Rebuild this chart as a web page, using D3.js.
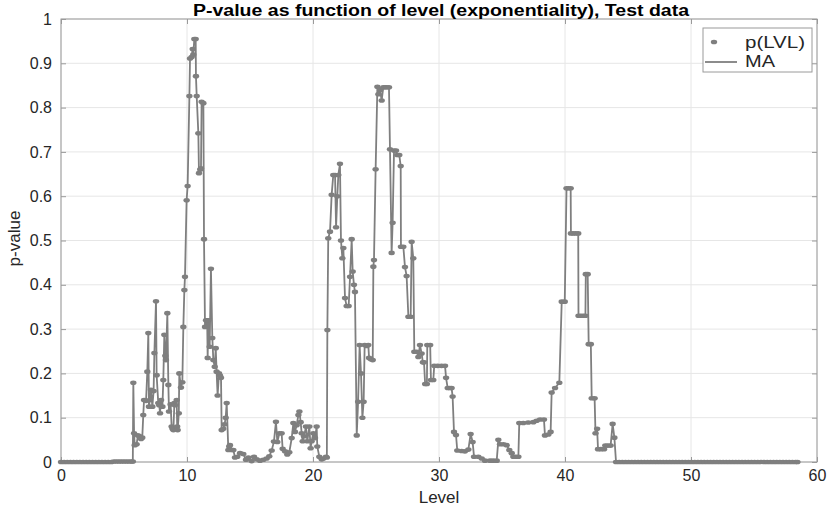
<!DOCTYPE html>
<html><head><meta charset="utf-8">
<script src="https://cdn.jsdelivr.net/npm/d3@7"></script>
<style>
html,body{margin:0;padding:0;background:#fff;}
svg{display:block;font-family:"Liberation Sans",Arial,Helvetica,sans-serif;}
</style></head>
<body>
<svg id="chart" width="832" height="513"></svg>
<script>
const titleText = "P-value as function of level (exponentiality), Test data";
const xLabel = "Level";
const yLabel = "p-value";
const legendLabels = ["p(LVL)", "MA"];
const xTicks = [0, 10, 20, 30, 40, 50, 60];
const yTicks = [0, 0.1, 0.2, 0.3, 0.4, 0.5, 0.6, 0.7, 0.8, 0.9, 1];
const xDomain = [0, 60];
const yDomain = [0, 1];

// [level, p-value] pairs
const pLVL = [
 [0,0],[0.25,0],[0.5,0],[0.75,0],[1,0],[1.25,0],[1.5,0],[1.75,0],[2,0],[2.25,0],[2.5,0],[2.75,0],[3,0],[3.25,0],[3.5,0],[3.75,0],[4,0],[4.2,0.001],[4.4,0.001],[4.6,0.001],[4.8,0.001],[5,0.001],[5.2,0.001],[5.4,0.001],[5.6,0.001],[5.7,0.001],
 [5.74,0.179],[5.80,0.065],[5.85,0.038],[6.00,0.040],[6.10,0.060],[6.27,0.058],[6.35,0.052],[6.45,0.055],[6.53,0.106],[6.59,0.140],[6.75,0.138],[6.85,0.204],[6.93,0.291],[6.98,0.125],[7.05,0.140],[7.14,0.163],[7.25,0.125],[7.35,0.160],[7.41,0.246],[7.54,0.363],[7.59,0.196],[7.72,0.133],[7.80,0.128],[7.86,0.110],[7.94,0.140],[8.05,0.125],[8.12,0.185],[8.20,0.287],[8.28,0.240],[8.33,0.230],[8.44,0.336],[8.52,0.174],[8.57,0.114],[8.70,0.130],[8.78,0.080],[8.85,0.075],[8.92,0.072],[9.00,0.133],[9.05,0.128],[9.18,0.140],[9.22,0.080],[9.26,0.072],[9.35,0.110],[9.39,0.200],[9.52,0.168],[9.63,0.180],[9.71,0.305],[9.79,0.388],[9.84,0.418],[9.97,0.591],[10.05,0.623],[10.19,0.826],[10.24,0.911],[10.37,0.914],[10.45,0.932],[10.50,0.920],[10.58,0.955],[10.69,0.955],[10.71,0.871],[10.77,0.826],[10.90,0.742],[10.95,0.652],[11.05,0.660],[11.11,0.663],[11.16,0.813],[11.30,0.810],[11.35,0.503],[11.43,0.305],[11.51,0.320],[11.60,0.320],[11.64,0.235],[11.69,0.320],[11.80,0.260],[11.90,0.436],[12.01,0.280],[12.09,0.230],[12.20,0.215],[12.28,0.257],[12.35,0.204],[12.43,0.150],[12.54,0.200],[12.62,0.195],[12.70,0.190],[12.75,0.072],[12.88,0.075],[12.98,0.085],[13.07,0.100],[13.15,0.133],[13.28,0.027],[13.35,0.035],[13.41,0.038],[13.55,0.027],[13.68,0.027],[13.81,0.010],[13.99,0.012],[14.21,0.020],[14.47,0.018],[14.68,0.005],[14.87,0.010],[15.13,0.002],[15.32,0.012],[15.53,0.006],[15.79,0.003],[16.06,0.005],[16.32,0.008],[16.53,0.013],[16.72,0.026],[16.90,0.046],[17.06,0.091],[17.17,0.045],[17.33,0.065],[17.51,0.065],[17.59,0.030],[17.78,0.024],[17.96,0.017],[18.12,0.022],[18.31,0.054],[18.44,0.088],[18.57,0.068],[18.70,0.083],[18.84,0.106],[18.92,0.114],[19.02,0.090],[19.10,0.065],[19.18,0.047],[19.29,0.058],[19.44,0.080],[19.55,0.047],[19.71,0.080],[19.81,0.031],[19.89,0.047],[20.03,0.065],[20.16,0.054],[20.29,0.080],[20.34,0.035],[20.50,0.012],[20.69,0.006],[20.82,0.008],[21.03,0.012],[21.10,0.010],
 [21.14,0.298],[21.21,0.505],[21.35,0.520],[21.48,0.603],[21.61,0.648],[21.75,0.648],[21.83,0.530],[21.93,0.600],[22.01,0.648],[22.14,0.673],[22.22,0.500],[22.33,0.460],[22.41,0.483],[22.54,0.370],[22.67,0.352],[22.83,0.352],[22.94,0.418],[23.07,0.503],[23.15,0.430],[23.25,0.400],[23.33,0.384],[23.47,0.060],[23.58,0.136],[23.70,0.264],[23.81,0.200],[23.92,0.100],[24.02,0.136],[24.10,0.264],[24.26,0.262],[24.39,0.264],[24.45,0.235],[24.60,0.232],[24.74,0.230],[24.79,0.441],[24.84,0.456],[24.97,0.661],[25.11,0.847],[25.19,0.830],[25.32,0.840],[25.45,0.816],[25.58,0.846],[25.72,0.846],[25.85,0.846],[26.03,0.846],[26.11,0.706],[26.24,0.472],[26.32,0.540],[26.43,0.703],[26.59,0.703],[26.69,0.693],[26.85,0.693],[26.96,0.668],[26.98,0.486],[27.17,0.486],[27.30,0.440],[27.43,0.420],[27.57,0.328],[27.75,0.328],[27.83,0.497],[27.96,0.460],[28.04,0.249],[28.23,0.249],[28.36,0.237],[28.49,0.264],[28.62,0.245],[28.72,0.225],[28.81,0.225],[28.90,0.176],[29.04,0.176],[29.07,0.264],[29.30,0.264],[29.36,0.185],[29.55,0.185],[29.62,0.217],[29.90,0.217],[30.20,0.217],[30.48,0.217],[30.56,0.190],[30.69,0.167],[30.85,0.167],[31.00,0.167],[31.08,0.148],[31.19,0.068],[31.35,0.061],[31.45,0.026],[31.80,0.025],[32.06,0.024],[32.33,0.028],[32.51,0.063],[32.67,0.045],[32.78,0.012],[33.12,0.012],[33.39,0.008],[33.65,0.003],[34.05,0.003],[34.30,0.003],[34.58,0.003],[34.71,0.050],[34.84,0.040],[35.11,0.040],[35.37,0.038],[35.58,0.027],[35.77,0.020],[35.90,0.012],[36.10,0.012],[36.30,0.012],[36.37,0.088],[36.69,0.088],[37.08,0.089],[37.49,0.090],[37.75,0.093],[38.02,0.096],[38.33,0.096],[38.41,0.060],[38.68,0.062],[38.86,0.068],[38.94,0.157],[39.21,0.167],[39.55,0.179],[39.74,0.362],[39.98,0.362],
 [40.12,0.618],[40.28,0.618],[40.45,0.618],[40.47,0.516],[40.65,0.516],[40.85,0.516],[41.05,0.516],[41.07,0.330],[41.25,0.330],[41.45,0.330],[41.62,0.330],[41.65,0.424],[41.80,0.424],[41.88,0.266],[42.05,0.266],[42.12,0.144],[42.35,0.144],[42.42,0.065],[42.55,0.075],[42.62,0.029],[42.85,0.029],[43.10,0.029],[43.20,0.037],[43.40,0.037],[43.62,0.037],[43.78,0.086],[43.92,0.055],[44.05,0],
 [44.30,0],[44.55,0],[44.80,0],[45.05,0],[45.30,0],[45.55,0],[45.80,0],[46.05,0],[46.30,0],[46.55,0],[46.80,0],[47.05,0],[47.30,0],[47.55,0],[47.80,0],[48.05,0],[48.30,0],[48.55,0],[48.80,0],[49.05,0],[49.30,0],[49.55,0],[49.80,0],[50.05,0],[50.30,0],[50.55,0],[50.80,0],[51.05,0],[51.30,0],[51.55,0],[51.80,0],[52.05,0],[52.30,0],[52.55,0],[52.80,0],[53.05,0],[53.30,0],[53.55,0],[53.80,0],[54.05,0],[54.30,0],[54.55,0],[54.80,0],[55.05,0],[55.30,0],[55.55,0],[55.80,0],[56.05,0],[56.30,0],[56.55,0],[56.80,0],[57.05,0],[57.30,0],[57.55,0],[57.80,0],[58.05,0],[58.30,0],[58.45,0]
];

const W = 832, H = 513;
const plot = {left: 61, right: 817, top: 19, bottom: 462};
const svg = d3.select("#chart");
const x = d3.scaleLinear().domain(xDomain).range([plot.left, plot.right]);
const y = d3.scaleLinear().domain(yDomain).range([plot.bottom, plot.top]);

const gridColor = "#e6e6e6", axisColor = "#9a9a9a", textColor = "#262626", markColor = "#7f7f7f";

// grid
const grid = svg.append("g");
grid.selectAll("line.gx").data(xTicks).join("line")
  .attr("x1", d => x(d)).attr("x2", d => x(d)).attr("y1", plot.top).attr("y2", plot.bottom)
  .attr("stroke", gridColor).attr("stroke-width", 1);
grid.selectAll("line.gy").data(yTicks).join("line")
  .attr("y1", d => y(d)).attr("y2", d => y(d)).attr("x1", plot.left).attr("x2", plot.right)
  .attr("stroke", gridColor).attr("stroke-width", 1);

function styleAxis(g, showText) {
  g.select(".domain").remove();
  g.selectAll(".tick line").attr("stroke", axisColor);
  g.selectAll(".tick text").attr("fill", textColor).style("font-size", "16px")
   .style("display", showText ? null : "none");
}
svg.append("g").attr("transform", `translate(0,${plot.bottom})`)
  .call(d3.axisBottom(x).tickValues(xTicks).tickFormat(d3.format("d")).tickSizeInner(-5).tickSizeOuter(0).tickPadding(8))
  .call(g => styleAxis(g, true));
svg.append("g").attr("transform", `translate(0,${plot.top})`)
  .call(d3.axisTop(x).tickValues(xTicks).tickSizeInner(-5).tickSizeOuter(0))
  .call(g => styleAxis(g, false));
svg.append("g").attr("transform", `translate(${plot.left},0)`)
  .call(d3.axisLeft(y).tickValues(yTicks).tickFormat(d => d === 0 ? "0" : d === 1 ? "1" : d3.format(".1f")(d)).tickSizeInner(-5).tickSizeOuter(0).tickPadding(9))
  .call(g => styleAxis(g, true));
svg.append("g").attr("transform", `translate(${plot.right},0)`)
  .call(d3.axisRight(y).tickValues(yTicks).tickSizeInner(-5).tickSizeOuter(0))
  .call(g => styleAxis(g, false));

// box
svg.append("rect").attr("x", plot.left).attr("y", plot.top)
  .attr("width", plot.right - plot.left).attr("height", plot.bottom - plot.top)
  .attr("fill", "none").attr("stroke", axisColor).attr("stroke-width", 1);

// data
svg.append("defs").append("clipPath").attr("id", "clip")
  .append("rect").attr("x", plot.left - 4).attr("y", plot.top).attr("width", plot.right - plot.left + 8).attr("height", plot.bottom - plot.top + 4);
const dataG = svg.append("g").attr("clip-path", "url(#clip)");
const line = d3.line().x(d => x(d[0])).y(d => y(d[1]));
dataG.append("path").datum(pLVL).attr("d", line)
  .attr("fill", "none").attr("stroke", markColor).attr("stroke-width", 1.8).attr("stroke-linejoin", "round");
dataG.selectAll("ellipse").data(pLVL).join("ellipse")
  .attr("cx", d => x(d[0])).attr("cy", d => y(d[1])).attr("rx", 3.2).attr("ry", 2.3)
  .attr("fill", markColor);

// title and labels
svg.append("text").attr("x", 441).attr("y", 16)
  .attr("text-anchor", "middle").attr("fill", "#000").style("font-size", "16px").style("font-weight", "bold")
  .attr("textLength", 496).attr("lengthAdjust", "spacingAndGlyphs")
  .text(titleText);
svg.append("text").attr("x", (plot.left + plot.right) / 2).attr("y", 503)
  .attr("text-anchor", "middle").attr("fill", textColor).style("font-size", "17px").text(xLabel);
svg.append("text").attr("transform", `translate(20,${(plot.top + plot.bottom) / 2 - 2}) rotate(-90)`)
  .attr("text-anchor", "middle").attr("fill", textColor).style("font-size", "17px").text(yLabel);

// legend
const lg = svg.append("g");
lg.append("rect").attr("x", 703).attr("y", 28).attr("width", 109).attr("height", 44)
  .attr("fill", "#fff").attr("stroke", axisColor).attr("stroke-width", 1);
lg.append("ellipse").attr("cx", 714).attr("cy", 42).attr("rx", 3.2).attr("ry", 2.3).attr("fill", markColor);
lg.append("line").attr("x1", 705).attr("x2", 737).attr("y1", 62).attr("y2", 62)
  .attr("stroke", markColor).attr("stroke-width", 1.8);
const legendWidths = [60, 30];
lg.selectAll("text.lt").data(legendLabels).join("text")
  .attr("x", 745).attr("y", (d, i) => 48 + i * 19)
  .attr("fill", textColor).style("font-size", "16px")
  .attr("textLength", (d, i) => legendWidths[i]).attr("lengthAdjust", "spacingAndGlyphs")
  .text(d => d);
</script>
</body></html>
